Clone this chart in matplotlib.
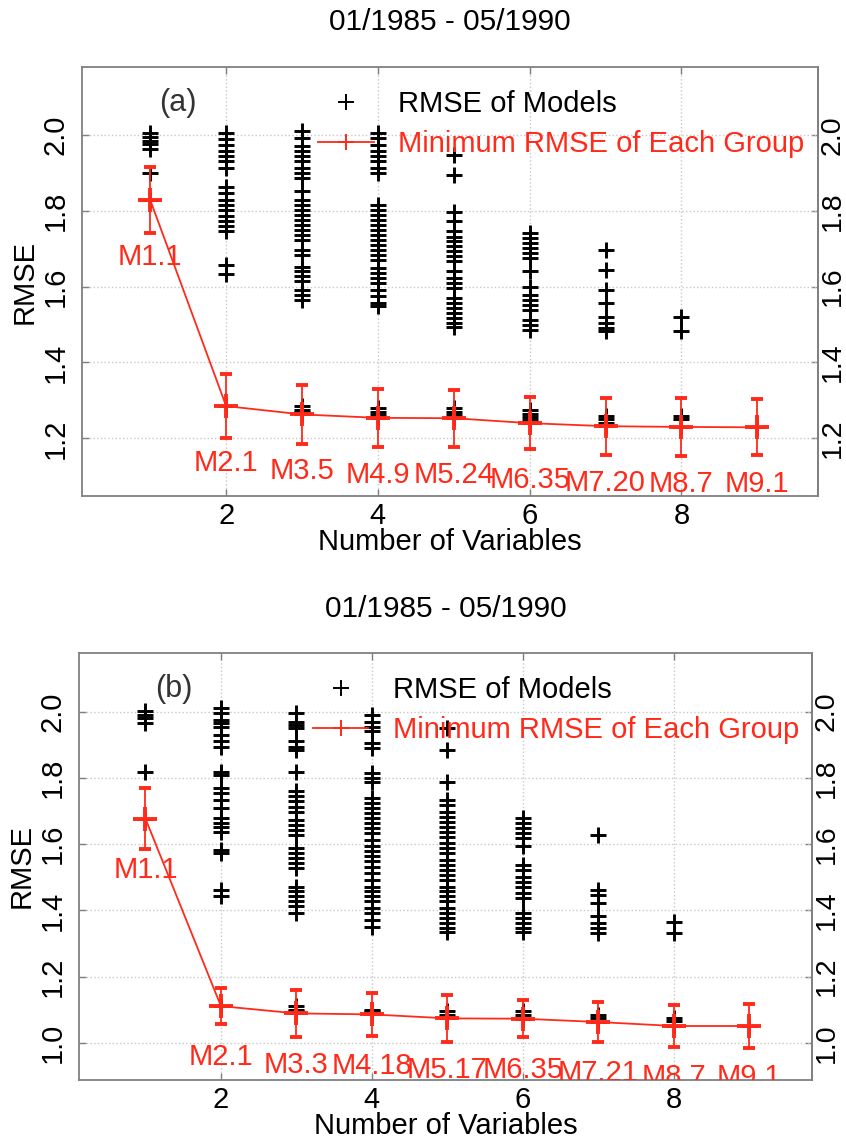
import numpy as np
import matplotlib.pyplot as plt
from matplotlib.lines import Line2D

plt.rcParams['font.family'] = ['Liberation Sans', 'DejaVu Sans']

RED = '#ff2a1a'
GREY = '#808080'
title = '01/1985 - 05/1990'
nvars = [1, 2, 3, 4, 5, 6, 7, 8, 9]
yticks_a = [1.2, 1.4, 1.6, 1.8, 2.0]
yticks_b = [1.0, 1.2, 1.4, 1.6, 1.8, 2.0]

# (a) RMSE of every model, grouped by number of variables
a_k1 = [2.005, 1.995, 1.985, 1.975, 1.962, 1.90, 1.828]
a_k2 = [2.005, 1.988, 1.974, 1.957, 1.944, 1.930, 1.913, 1.864, 1.847, 1.829, 1.816,
        1.803, 1.785, 1.772, 1.759, 1.746, 1.658, 1.632, 1.285]
a_k3 = [2.01, 1.992, 1.970, 1.957, 1.944, 1.930, 1.913, 1.900, 1.887, 1.851, 1.829,
        1.816, 1.803, 1.790, 1.776, 1.763, 1.750, 1.737, 1.724, 1.697, 1.684, 1.653,
        1.640, 1.627, 1.614, 1.592, 1.579, 1.565, 1.285, 1.275, 1.27, 1.263]
a_k4 = [2.005, 1.992, 1.974, 1.957, 1.944, 1.930, 1.913, 1.900, 1.816, 1.803, 1.790,
        1.776, 1.763, 1.750, 1.737, 1.724, 1.711, 1.697, 1.684, 1.671, 1.649, 1.636,
        1.623, 1.609, 1.592, 1.574, 1.557, 1.548, 1.28, 1.27, 1.262, 1.254]
a_k5 = [1.948, 1.895, 1.798, 1.772, 1.746, 1.732, 1.719, 1.706, 1.693, 1.680, 1.667,
        1.640, 1.623, 1.609, 1.596, 1.570, 1.557, 1.543, 1.530, 1.517, 1.504, 1.493,
        1.28, 1.27, 1.262, 1.253]
a_k6 = [1.741, 1.728, 1.715, 1.702, 1.689, 1.676, 1.640, 1.600, 1.579, 1.565, 1.552,
        1.539, 1.513, 1.499, 1.486, 1.275, 1.265, 1.255, 1.248, 1.24]
a_k7 = [1.697, 1.645, 1.592, 1.557, 1.521, 1.504, 1.491, 1.482, 1.26, 1.25, 1.24, 1.232]
a_k8 = [1.521, 1.482, 1.26, 1.25, 1.23]
a_k9 = [1.229]
a_min = [1.828, 1.285, 1.263, 1.254, 1.253, 1.240, 1.232, 1.230, 1.229]
a_err = [0.087, 0.085, 0.078, 0.077, 0.075, 0.069, 0.075, 0.076, 0.074]
a_labels = ['M1.1', 'M2.1', 'M3.5', 'M4.9', 'M5.24', 'M6.35', 'M7.20', 'M8.7', 'M9.1']

# (b)
b_k1 = [2.003, 1.99, 1.98, 1.965, 1.819, 1.677]
b_k2 = [2.010, 1.995, 1.975, 1.965, 1.955, 1.930, 1.910, 1.894, 1.819, 1.809, 1.769,
        1.754, 1.734, 1.709, 1.678, 1.663, 1.653, 1.638, 1.583, 1.573, 1.462, 1.442, 1.111]
b_k3 = [1.995, 1.970, 1.960, 1.950, 1.910, 1.894, 1.884, 1.819, 1.759, 1.744, 1.729,
        1.713, 1.698, 1.673, 1.658, 1.643, 1.628, 1.588, 1.573, 1.558, 1.543, 1.527,
        1.472, 1.457, 1.442, 1.427, 1.412, 1.392, 1.11, 1.10, 1.095, 1.089]
b_k4 = [1.99, 1.970, 1.955, 1.94, 1.905, 1.89, 1.814, 1.799, 1.789, 1.739, 1.724,
        1.709, 1.693, 1.678, 1.663, 1.648, 1.633, 1.613, 1.593, 1.578, 1.563, 1.548,
        1.532, 1.512, 1.492, 1.472, 1.457, 1.442, 1.427, 1.407, 1.392, 1.372, 1.351,
        1.10, 1.095, 1.086]
b_k5 = [1.950, 1.884, 1.789, 1.734, 1.719, 1.698, 1.683, 1.668, 1.653, 1.638, 1.623,
        1.603, 1.588, 1.573, 1.553, 1.538, 1.522, 1.507, 1.492, 1.472, 1.457, 1.442,
        1.427, 1.407, 1.392, 1.377, 1.362, 1.347, 1.336, 1.095, 1.085, 1.074]
b_k6 = [1.678, 1.663, 1.648, 1.633, 1.618, 1.593, 1.538, 1.522, 1.502, 1.487, 1.472,
        1.452, 1.437, 1.392, 1.377, 1.362, 1.347, 1.336, 1.095, 1.085, 1.073]
b_k7 = [1.628, 1.462, 1.447, 1.422, 1.382, 1.362, 1.347, 1.331, 1.085, 1.075, 1.063]
b_k8 = [1.366, 1.331, 1.075, 1.065, 1.051]
b_k9 = [1.051]
b_min = [1.677, 1.111, 1.089, 1.086, 1.074, 1.073, 1.063, 1.051, 1.051]
b_err = [0.093, 0.055, 0.071, 0.066, 0.071, 0.056, 0.060, 0.064, 0.067]
b_labels = ['M1.1', 'M2.1', 'M3.3', 'M4.18', 'M5.17', 'M6.35', 'M7.21', 'M8.7', 'M9.1']

FS = 21


def panel(ax, cols, mins, errs, labels, tag, ylim, xlim, yticks, off, leg_xy, title_pad):
    ax.set_xlim(*xlim)
    ax.set_ylim(*ylim)
    ax.set_xticks([2, 4, 6, 8])
    ax.set_yticks(yticks)
    ax.set_yticklabels(['%.1f' % v for v in yticks])
    ax.grid(True, ls=':', color='#c8c8c8', lw=1.0)
    for s in ax.spines.values():
        s.set_color(GREY)
        s.set_linewidth(1.3)
    ax.tick_params(direction='in', length=5, color=GREY, width=1.0,
                   labelsize=FS, top=True, pad=4)
    ax.tick_params(axis='y', labelrotation=90, pad=9)
    for t in ax.get_yticklabels():
        t.set_va('center')

    sec = ax.secondary_yaxis('right')
    sec.set_yticks(yticks)
    sec.set_yticklabels(['%.1f' % v for v in yticks])
    sec.spines['right'].set_color(GREY)
    sec.spines['right'].set_linewidth(1.3)
    sec.tick_params(direction='in', length=5, color=GREY, width=1.0,
                    labelsize=FS - 0.5, labelrotation=90, pad=1)
    for t in sec.get_yticklabels():
        t.set_va('center')

    for k, vals in zip(nvars, cols):
        ax.plot(np.full(len(vals), k), vals, ls='none', marker='+', color='k',
                ms=12, mew=2.1)

    ax.errorbar(nvars, mins, yerr=errs, color=RED, lw=1.3, marker='+', ms=17,
                mew=2.8, capsize=4, elinewidth=1.3, capthick=1.3, zorder=5)
    for k, m, lab in zip(nvars, mins, labels):
        ax.text(k, m - off, lab, color=RED, ha='center', va='center',
                fontsize=FS, clip_on=True)

    ax.text(0.13, 0.915, tag, transform=ax.transAxes, fontsize=FS + 1,
            color='#333333', ha='center', va='center')

    handles = [Line2D([], [], ls='none', marker='+', color='k', ms=11, mew=1.4),
               Line2D([], [], color=RED, marker='+', ms=11, mew=1.4, lw=1.3)]
    ax.legend(handles, ['RMSE of Models', 'Minimum RMSE of Each Group'],
              loc='upper left', bbox_to_anchor=leg_xy, frameon=False,
              fontsize=FS, labelcolor=['black', RED], handlelength=1.9,
              handletextpad=0.85, labelspacing=0.42, borderpad=0,
              borderaxespad=0, numpoints=1)

    ax.set_title(title, fontsize=FS + 0.5, pad=title_pad)
    ax.set_xlabel('Number of Variables', fontsize=FS, labelpad=-1)
    ax.set_ylabel('RMSE', fontsize=FS, labelpad=2)


fig = plt.figure(figsize=(8.46, 11.42), dpi=100)
ax_a = fig.add_axes([0.0969, 0.5657, 0.870, 0.3756])
ax_b = fig.add_axes([0.0934, 0.0543, 0.8664, 0.3742])

panel(ax_a, [a_k1, a_k2, a_k3, a_k4, a_k5, a_k6, a_k7, a_k8, a_k9],
      a_min, a_err, a_labels, '(a)', (1.048, 2.179), (0.1, 9.8), yticks_a, 0.15,
      (0.321, 0.946), 27)
panel(ax_b, [b_k1, b_k2, b_k3, b_k4, b_k5, b_k6, b_k7, b_k8, b_k9],
      b_min, b_err, b_labels, '(b)', (0.888, 2.178), (0.12, 9.83), yticks_b, 0.155,
      (0.319, 0.945), 26)

fig.savefig('out.png', dpi=100)
